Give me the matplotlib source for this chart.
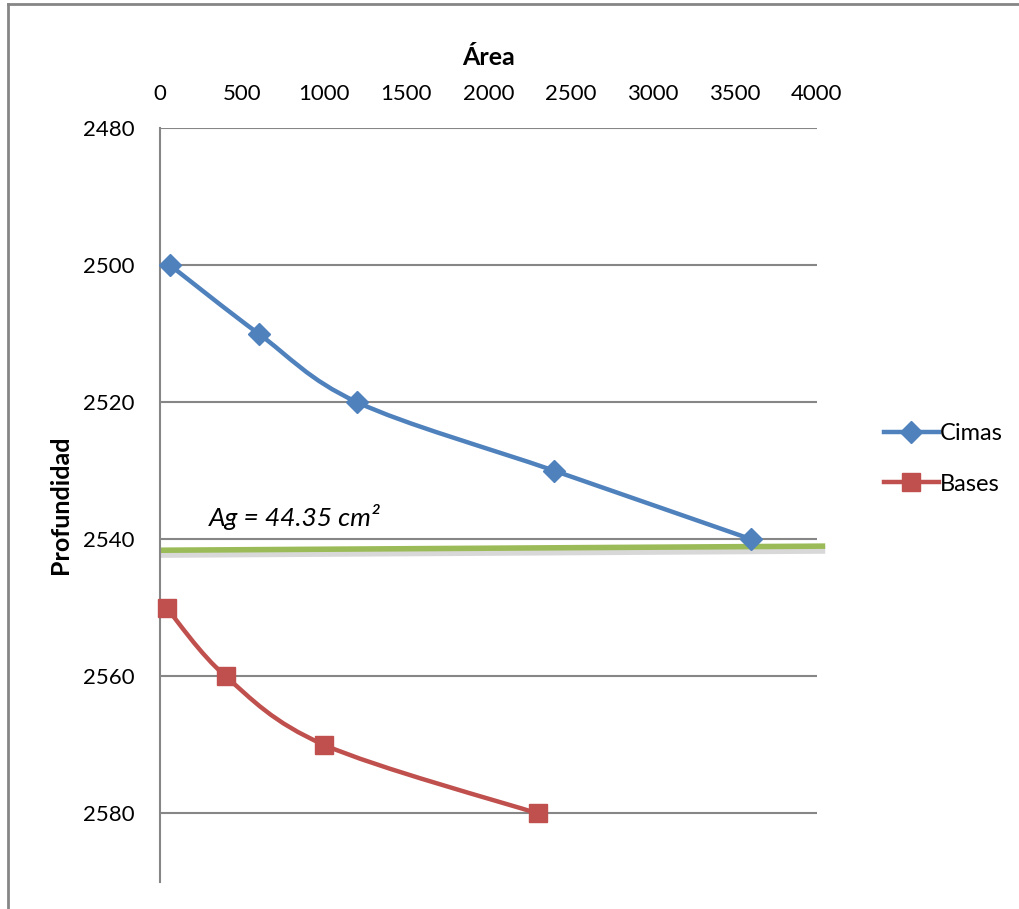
import numpy as np
import matplotlib
matplotlib.use("Agg")
import matplotlib.pyplot as plt
from matplotlib.path import Path
from matplotlib.patches import PathPatch
from matplotlib.lines import Line2D
import matplotlib.patheffects as pe

plt.rcParams['font.family'] = ['Lato', 'DejaVu Sans']

# Data
cimas_area = [60, 600, 1200, 2400, 3600]
cimas_prof = [2500, 2510, 2520, 2530, 2540]
bases_area = [40, 400, 1000, 2300]
bases_prof = [2550, 2560, 2570, 2580]
ag_area = [0, 4050]
ag_prof = [2541.6, 2541.0]
ag_label = "Ag = 44.35 cm²"
x_ticks = [0, 500, 1000, 1500, 2000, 2500, 3000, 3500, 4000]
y_ticks = [2480, 2500, 2520, 2540, 2560, 2580]

BLUE = "#4F81BD"
RED = "#C0504D"
GREEN = "#9BBB59"
GRID = "#868686"

W, H = 1019, 909
fig = plt.figure(figsize=(W / 100, H / 100), dpi=100)
ax = fig.add_axes([160 / W, 1 - 882 / H, (817 - 160) / W, (882 - 128) / H])
ax.set_xlim(0, 4000)
ax.set_ylim(2590, 2480)


def smooth_path(xs, ys):
    xs = np.asarray(xs, float)
    ys = np.asarray(ys, float)
    n = len(xs)
    verts = [(xs[0], ys[0])]
    codes = [Path.MOVETO]
    for i in range(n - 1):
        p0 = np.array([xs[max(i - 1, 0)], ys[max(i - 1, 0)]])
        p1 = np.array([xs[i], ys[i]])
        p2 = np.array([xs[i + 1], ys[i + 1]])
        p3 = np.array([xs[min(i + 2, n - 1)], ys[min(i + 2, n - 1)]])
        c1 = p1 + (p2 - p0) / 6.0
        c2 = p2 - (p3 - p1) / 6.0
        verts += [tuple(c1), tuple(c2), tuple(p2)]
        codes += [Path.CURVE4] * 3
    return Path(verts, codes)


# grid lines
for yv in y_ticks:
    ax.axhline(yv, color=GRID, lw=1.5, zorder=1)

for xs, ys, col, mk, ms in [(cimas_area, cimas_prof, BLUE, 'D', 11),
                            (bases_area, bases_prof, RED, 's', 13)]:
    patch = PathPatch(smooth_path(xs, ys), facecolor='none', edgecolor=col,
                      lw=3.2, zorder=3, capstyle='round', joinstyle='round')
    patch.set_clip_on(False)
    ax.add_patch(patch)
    ax.plot(xs, ys, linestyle='none', marker=mk, ms=ms, color=col,
            markeredgecolor=col, zorder=4, clip_on=False)

ax.plot(ag_area, ag_prof, color=GREEN, lw=4, zorder=2, clip_on=False,
        solid_capstyle='butt',
        path_effects=[pe.SimpleLineShadow(offset=(0, -2.5), shadow_color='gray', alpha=0.3,
                                          linewidth=6),
                      pe.Normal()])
ax.text(300, 2538.1, ag_label, fontsize=19, style='italic', zorder=5)

ax.xaxis.tick_top()
ax.xaxis.set_label_position('top')
ax.set_xticks(x_ticks)
ax.set_xticklabels([str(v) for v in x_ticks])
ax.set_yticks(y_ticks)
ax.set_yticklabels([str(v) for v in y_ticks])
ax.tick_params(axis='both', length=0, labelsize=16)
ax.tick_params(axis='y', pad=18)
ax.tick_params(axis='x', pad=17)
ax.set_xlabel("Área", fontsize=18, fontweight='bold', labelpad=14)
ax.set_ylabel("Profundidad", fontsize=18, fontweight='bold', labelpad=8)

for s in ['top', 'right', 'bottom']:
    ax.spines[s].set_visible(False)
ax.spines['left'].set_color(GRID)
ax.spines['left'].set_linewidth(1.5)

handles = [Line2D([], [], color=BLUE, lw=3.2, marker='D', ms=11),
           Line2D([], [], color=RED, lw=3.2, marker='s', ms=13)]
fig.legend(handles, ["Cimas", "Bases"], loc='center left',
           bbox_to_anchor=(863 / W, 1 - 459 / H), frameon=False,
           fontsize=17, handlelength=2.3, handletextpad=0.05,
           labelspacing=1.25)

# outer frame
fig.add_artist(Line2D([8 / W, 8 / W], [0, 1 - 4 / H], transform=fig.transFigure,
                      color=GRID, lw=2))
fig.add_artist(Line2D([8 / W, 1], [1 - 4 / H, 1 - 4 / H], transform=fig.transFigure,
                      color=GRID, lw=2))

fig.savefig("out.png", dpi=100, facecolor='white')
